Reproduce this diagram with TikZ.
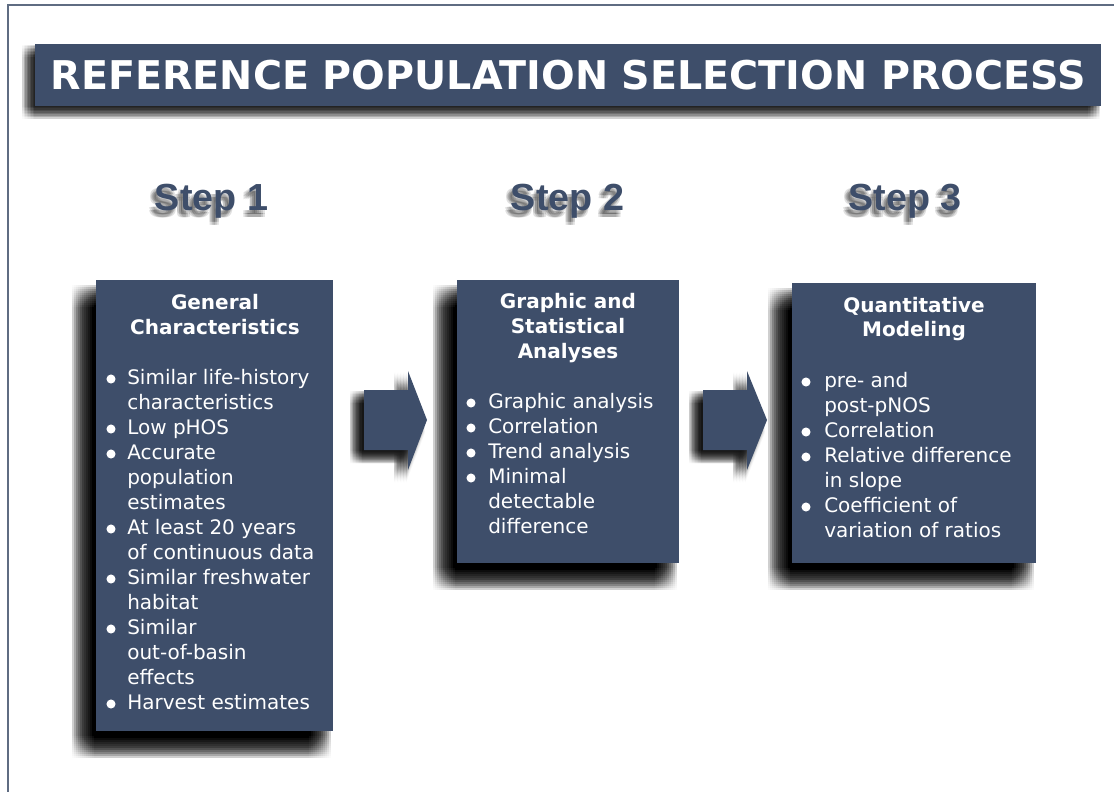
\documentclass[tikz,border=0pt]{standalone}
\usepackage{fontspec}
\setmainfont{DejaVu Sans}
\newfontfamily\stepfont{Liberation Sans}
\definecolor{boxc}{RGB}{62,78,106}
\definecolor{framec}{RGB}{95,108,130}
% soft drop shadow: #1 offsets x, #2 offsets y, #3 opacity, #4 path
\newcommand\softshadow[4]{%
  \foreach \ddx in {#1} \foreach \ddy in {#2}
    \fill[black, opacity=#3, shift={(\ddx,\ddy)}] #4;}
\begin{document}
\begin{tikzpicture}[x=0.75pt,y=-0.75pt,
  panel/.style={fill=boxc, draw=none, inner sep=0pt, anchor=north west},
  body/.style={text=white, font=\fontsize{15}{18}\selectfont, anchor=base west, inner sep=0pt},
  head/.style={text=white, font=\bfseries\fontsize{15}{18}\selectfont, anchor=base, inner sep=0pt},
  bulletdot/.style={fill=white},
  steptxt/.style={font=\stepfont\bfseries\fontsize{28.3}{34}\selectfont, anchor=base, inner sep=0pt},
  stepshadow/.style={steptxt, text=black, opacity=0.12}
]
\useasboundingbox (0,0) rectangle (1114,792);
\fill[white] (0,0) rectangle (1114,792);
\draw[framec, line width=1.1pt] (8,800) -- (8,5) -- (1120,5);

% shadows
\softshadow{-13,-11.5,...,0}{1,2.5,...,14}{0.02}{(35,44) rectangle (1101,106)}
\softshadow{-24,-22,...,-2}{5,7,...,27}{0.014}{(96,280) rectangle (333,731)}
\softshadow{-24,-22,...,-2}{5,7,...,27}{0.014}{(457,280) rectangle (679,563)}
\softshadow{-24,-22,...,-2}{5,7,...,27}{0.014}{(792,283) rectangle (1036,563)}
\softshadow{-14,-12.5,...,-2}{1,2.5,...,14}{0.024}{(364,390) -- (408,390) -- (408,371) -- (427,420) -- (408,470) -- (408,450) -- (364,450) -- cycle}
\softshadow{-14,-12.5,...,-2}{1,2.5,...,14}{0.024}{(703,390) -- (747,390) -- (747,371) -- (767,420) -- (747,470) -- (747,450) -- (703,450) -- cycle}

% title
\node[panel, minimum width=799.5pt, minimum height=46.5pt, text=white,
      font=\bfseries\fontsize{29.7}{34}\selectfont] (title) at (35,44)
      {REFERENCE POPULATION SELECTION PROCESS};

% step labels with soft shadow
\foreach \n/\cx in {1/211.5, 2/567.5, 3/905} {
  \foreach \dx in {-6,-4,-2} \foreach \dy in {4,7}
    \node[stepshadow] (sh\n x\dx y\dy) at (\cx+\dx,210+\dy) {Step \n};
  \node[steptxt, text=boxc] (s\n) at (\cx,210) {Step \n};
}

% panels
\node[panel, minimum width=177.75pt, minimum height=338.25pt] (box1) at (96,280) {};
\node[panel, minimum width=166.5pt, minimum height=212.25pt] (box2) at (457,280) {};
\node[panel, minimum width=183pt, minimum height=210pt] (box3) at (792,283) {};

% block arrows
\fill[boxc] (364,390) -- (408,390) -- (408,371) -- (427,420) -- (408,470) -- (408,450) -- (364,450) -- cycle;
\fill[boxc] (703,390) -- (747,390) -- (747,371) -- (767,420) -- (747,470) -- (747,450) -- (703,450) -- cycle;

% box 1 text
\node[head] (h1a) at (215,309) {General};
\node[head] (h1b) at (215,334) {Characteristics};
\foreach \t/\b [count=\i] in {{Similar life-history}/1, {characteristics}/0, {Low pHOS}/1,
  {Accurate}/1, {population}/0, {estimates}/0, {At least 20 years}/1,
  {of continuous data}/0, {Similar freshwater}/1, {habitat}/0, {Similar}/1,
  {out-of-basin}/0, {effects}/0, {Harvest estimates}/1} {
  \node[body] (a\i) at (127,{384+25*(\i-1)}) {\t};
  \ifnum\b=1 \fill[bulletdot] (111,{379+25*(\i-1)}) circle[radius=3.4pt]; \fi
}

% box 2 text
\node[head] (h2a) at (568,308) {Graphic and};
\node[head] (h2b) at (568,333) {Statistical};
\node[head] (h2c) at (568,358) {Analyses};
\foreach \t/\b [count=\i] in {{Graphic analysis}/1, {Correlation}/1, {Trend analysis}/1,
  {Minimal}/1, {detectable}/0, {difference}/0} {
  \node[body] (b\i) at (488,{408+25*(\i-1)}) {\t};
  \ifnum\b=1 \fill[bulletdot] (471,{403+25*(\i-1)}) circle[radius=3.4pt]; \fi
}

% box 3 text
\node[head] (h3a) at (914,312) {Quantitative};
\node[head] (h3b) at (914,336) {Modeling};
\foreach \t/\b [count=\i] in {{pre- and}/1, {post-pNOS}/0, {Correlation}/1,
  {Relative difference}/1, {in slope}/0, {Coefficient of}/1, {variation of ratios}/0} {
  \node[body] (c\i) at (824,{387+25*(\i-1)}) {\t};
  \ifnum\b=1 \fill[bulletdot] (806,{382+25*(\i-1)}) circle[radius=3.4pt]; \fi
}
\end{tikzpicture}
\end{document}
